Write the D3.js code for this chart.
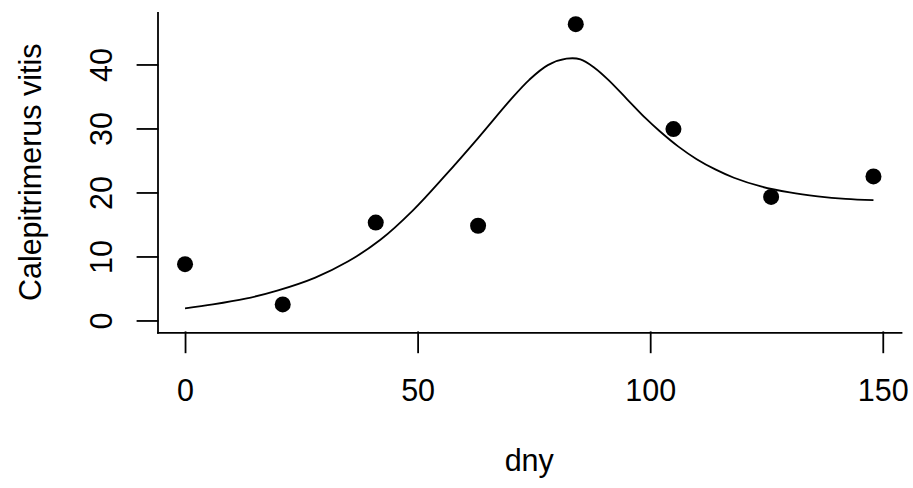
<!DOCTYPE html>
<html>
<head>
<meta charset="utf-8">
<script src="https://cdn.jsdelivr.net/npm/d3@7"></script>
<style>
  body { margin: 0; background: #fff; }
  svg { display: block; font-family: "Liberation Sans", Arial, sans-serif; }
</style>
</head>
<body>
<div id="chart"></div>
<script>
const WIDTH = 913;
const HEIGHT = 488;

// observed counts
const days = [0, 21, 41, 63, 84, 105, 126, 148];
const counts = [8.8, 2.5, 15.3, 14.8, 46.3, 29.9, 19.3, 22.5];

// fitted curve
const fitDays = [0, 6, 13, 20, 28, 35, 42, 49, 56, 63, 70, 74, 78, 82, 85, 88, 91, 95, 99, 102, 106, 110, 114, 118, 124, 130, 136, 142, 148];
const fitCounts = [1.9, 2.5, 3.4, 4.7, 6.7, 9.2, 12.6, 17.2, 22.7, 28.5, 34.5, 37.6, 39.9, 40.9, 40.8, 39.5, 37.6, 34.6, 31.6, 29.6, 27.2, 25.2, 23.6, 22.3, 20.9, 20.0, 19.4, 19.0, 18.8];

const xTicks = [0, 50, 100, 150];
const yTicks = [0, 10, 20, 30, 40];

const xLabel = 'dny';
const yLabel = 'Calepitrimerus vitis';

// plot region, R style (4% padding around the data range)
const LEFT = 157.5, RIGHT = 901, TOP = 12.3, BOTTOM = 332.3;
const FONT = 30.5;

const x = d3.scaleLinear().domain([-5.92, 153.92]).range([LEFT, RIGHT]);
const y = d3.scaleLinear().domain([-1.85, 48.15]).range([BOTTOM, TOP]);

const svg = d3.select('#chart').append('svg')
  .attr('width', WIDTH)
  .attr('height', HEIGHT);

// x axis
const xAxis = svg.append('g')
  .attr('transform', `translate(0, ${BOTTOM})`)
  .call(d3.axisBottom(x).tickValues(xTicks).tickSize(20).tickSizeOuter(0).tickFormat(d3.format('d')));

xAxis.selectAll('text')
  .attr('y', 69)
  .attr('dy', 0)
  .attr('font-size', FONT)
  .attr('font-family', '"Liberation Sans", Arial, sans-serif')
  .attr('fill', '#000');

// y axis
const yAxis = svg.append('g')
  .attr('transform', `translate(${LEFT}, 0)`)
  .call(d3.axisLeft(y).tickValues(yTicks).tickSize(20).tickSizeOuter(0).tickFormat(d3.format('d')));

yAxis.selectAll('text')
  .attr('transform', 'rotate(-90)')
  .attr('x', 0)
  .attr('y', -46)
  .attr('dy', 0)
  .attr('text-anchor', 'middle')
  .attr('font-size', FONT)
  .attr('font-family', '"Liberation Sans", Arial, sans-serif')
  .attr('fill', '#000');

svg.selectAll('.domain, .tick line')
  .attr('stroke', '#000')
  .attr('stroke-width', 1.8)
  .attr('stroke-linecap', 'square');

// fitted line
const line = d3.line()
  .x((d, i) => x(fitDays[i]))
  .y(d => y(d))
  .curve(d3.curveCatmullRom.alpha(0.5));

svg.append('path')
  .datum(fitCounts)
  .attr('d', line)
  .attr('fill', 'none')
  .attr('stroke', '#000')
  .attr('stroke-width', 1.8);

// points
svg.append('g')
  .selectAll('circle')
  .data(counts)
  .join('circle')
  .attr('cx', (d, i) => x(days[i]))
  .attr('cy', d => y(d))
  .attr('r', 8)
  .attr('fill', '#000');

// axis titles
svg.append('text')
  .attr('x', (LEFT + RIGHT) / 2)
  .attr('y', 471)
  .attr('text-anchor', 'middle')
  .attr('font-size', FONT)
  .text(xLabel);

svg.append('text')
  .attr('transform', `translate(41, ${(TOP + BOTTOM) / 2}) rotate(-90)`)
  .attr('text-anchor', 'middle')
  .attr('font-size', FONT)
  .text(yLabel);
</script>
</body>
</html>
